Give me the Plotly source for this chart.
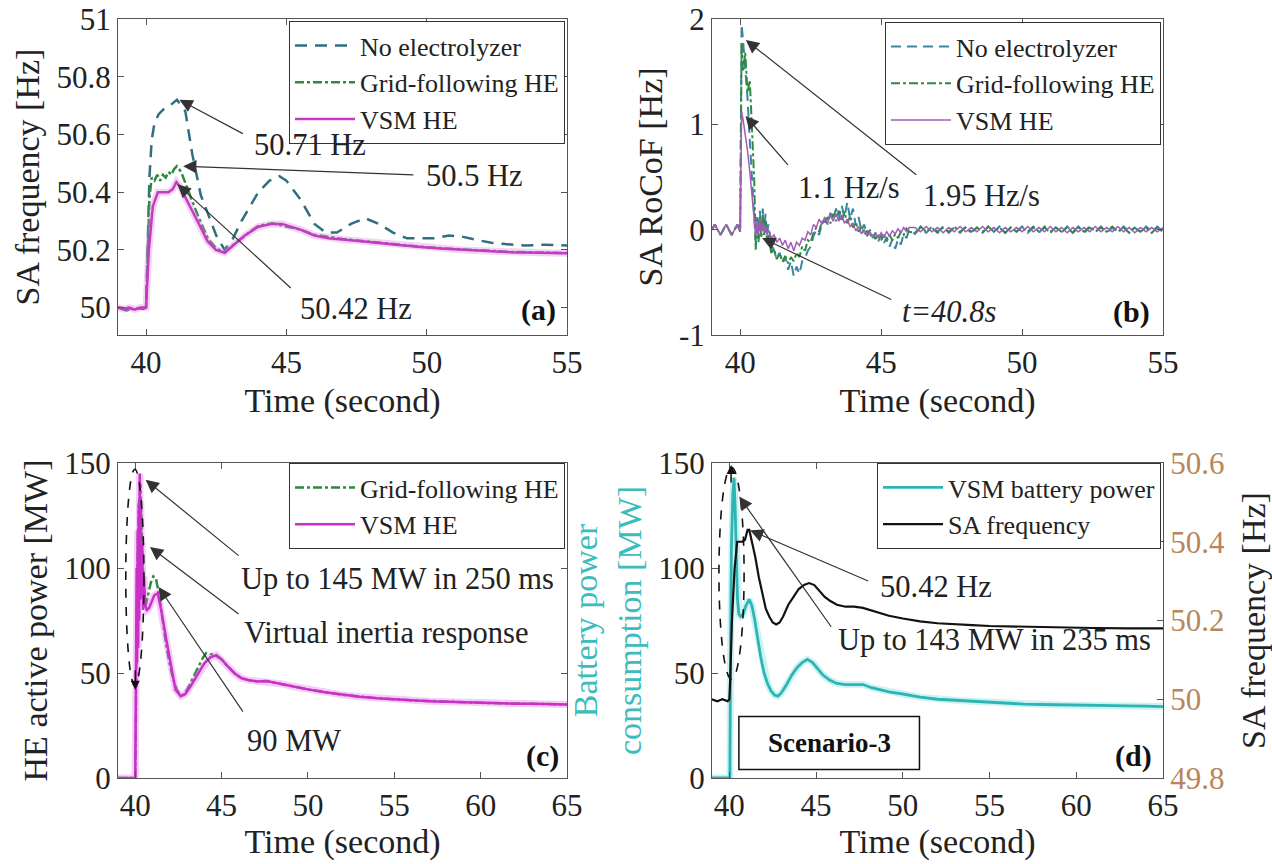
import plotly.graph_objects as go

FONT = "Liberation Serif, Times New Roman, serif"

# ---------------- (a) SA frequency ----------------
t_a_noel = [39.0, 39.3, 39.6, 39.9, 40.0, 40.06, 40.12, 40.2, 40.3, 40.45, 40.65, 40.85, 41.1, 41.4, 41.65,
            41.95, 42.25, 42.5, 42.8, 43.1, 43.4, 43.7, 44.0, 44.4, 44.75, 45.0, 45.5, 46.0, 46.4, 46.8,
            47.3, 47.8, 48.3, 48.8, 49.3, 49.8, 50.3, 50.8, 51.3, 51.8, 52.3, 52.8, 53.5, 54.2, 55.0]
f_a_noel = [50.0, 49.99, 50.0, 49.995, 50.0, 50.2, 50.45, 50.58, 50.64, 50.67, 50.69, 50.70, 50.72, 50.68, 50.53,
            50.39, 50.31, 50.25, 50.20, 50.24, 50.30, 50.35, 50.40, 50.44, 50.455, 50.44, 50.375, 50.29, 50.26, 50.26,
            50.29, 50.31, 50.29, 50.26, 50.24, 50.24, 50.24, 50.25, 50.245, 50.234, 50.225, 50.22, 50.215, 50.218, 50.215]

t_a_gf = [39.0, 39.5, 40.0, 40.05, 40.12, 40.2, 40.3, 40.4, 40.5, 40.6, 40.7, 40.8, 40.9, 41.0, 41.1,
          41.25, 41.45, 41.8, 42.2, 42.5, 42.8, 43.2, 43.6, 44.0, 44.5, 45.0, 45.5, 46.0, 47.0, 48.0,
          49.0, 50.0, 51.0, 52.0, 53.0, 54.0, 55.0]
f_a_gf = [50.0, 49.995, 50.0, 50.15, 50.38, 50.45, 50.44, 50.46, 50.44, 50.46, 50.45, 50.47, 50.46, 50.48, 50.49,
          50.47, 50.42, 50.33, 50.24, 50.205, 50.19, 50.225, 50.255, 50.283, 50.292, 50.282, 50.27, 50.252, 50.238, 50.228,
          50.218, 50.209, 50.203, 50.197, 50.193, 50.191, 50.189]

t_a_vsm = [39.0, 39.2, 39.4, 39.6, 39.8, 40.0, 40.05, 40.1, 40.24, 40.42, 40.6, 40.8, 40.95, 41.08, 41.2,
           41.47, 41.83, 42.19, 42.49, 42.8, 43.16, 43.52, 44.0, 44.48, 44.84, 45.2, 45.5, 46.0, 46.5, 47.0,
           47.5, 48.0, 48.5, 49.0, 49.5, 50.0, 50.5, 51.0, 51.5, 52.0, 52.5, 53.0, 53.5, 54.0, 54.5, 55.0]
f_a_vsm = [50.0, 49.995, 50.0, 49.993, 50.0, 50.0, 50.1, 50.2, 50.35, 50.40, 50.40, 50.40, 50.41, 50.435, 50.42,
           50.37, 50.30, 50.23, 50.20, 50.19, 50.22, 50.25, 50.28, 50.29, 50.29, 50.28, 50.27, 50.25, 50.24, 50.236,
           50.232, 50.227, 50.222, 50.217, 50.212, 50.208, 50.205, 50.202, 50.199, 50.196, 50.194, 50.192, 50.191, 50.19, 50.189, 50.188]

# ---------------- (b) SA RoCoF ----------------
t_b_pre = [39.0, 39.1, 39.2, 39.3, 39.4, 39.5, 39.6, 39.7, 39.8, 39.9, 40.0]
r_b_pre = [0.0, 0.05, 0.0, -0.05, 0.0, 0.05, 0.0, -0.05, 0.0, 0.05, -0.02]

t_b_evt = [40.05, 40.1, 40.18, 40.26, 40.34, 40.42, 40.5, 40.55, 40.6, 40.65,
           40.7, 40.75, 40.8, 40.85, 40.9, 40.95, 41.0,
           41.1, 41.2, 41.3, 41.4, 41.5, 41.6, 41.7, 41.8, 41.9, 42.0,
           42.1, 42.2, 42.3, 42.4, 42.5, 42.6, 42.7, 42.8, 42.9, 43.0,
           43.1, 43.2, 43.3, 43.4, 43.5, 43.6, 43.7, 43.8, 43.9, 44.0,
           44.1, 44.2, 44.3, 44.4, 44.5, 44.6, 44.7, 44.8, 44.9, 45.0,
           45.1, 45.2, 45.3, 45.4, 45.5, 45.6, 45.7, 45.8, 45.9, 46.0]
r_b_noel = [1.95, 1.8, 1.55, 1.25, 0.85, 0.45, 0.1, -0.12, 0.12, -0.08,
            0.18, -0.05, 0.2, 0.0, 0.15, -0.05, 0.05, -0.12, -0.2, -0.28,
            -0.22, -0.32, -0.26, -0.38, -0.3, -0.44, -0.35, -0.42, -0.3, -0.27,
            -0.2, -0.16, -0.06, 0.0, -0.05, 0.06, 0.1, 0.05, 0.16, 0.1,
            0.2, 0.1, 0.23, 0.12, 0.26, 0.1, 0.2, 0.04, 0.12, -0.01,
            0.05, -0.06, 0.0, -0.08, -0.03, -0.11, -0.05, -0.13, -0.07, -0.16,
            -0.09, -0.18, -0.09, -0.14, -0.04, -0.08, 0.0]
r_b_gf = [1.78, 1.5, 1.68, 1.3, 1.42, 0.95, 0.45, -0.19, 0.1, -0.12,
          0.12, -0.08, 0.15, -0.05, 0.08, -0.1, -0.05, -0.22, -0.18, -0.28,
          -0.22, -0.3, -0.25, -0.32, -0.26, -0.3, -0.22, -0.26, -0.16, -0.2,
          -0.1, -0.12, -0.03, 0.02, -0.02, 0.08, 0.05, 0.12, 0.06, 0.15,
          0.08, 0.18, 0.08, 0.17, 0.06, 0.13, 0.02, 0.07, -0.02, 0.03,
          -0.05, -0.01, -0.07, -0.03, -0.09, -0.04, -0.1, -0.05, -0.11, -0.05,
          -0.1, -0.04, -0.08, -0.02, -0.05, 0.01, -0.02]
r_b_vsm = [1.12, 1.05, 0.92, 0.75, 0.55, 0.32, 0.1, -0.05, 0.08, -0.05,
           0.1, -0.03, 0.07, -0.02, 0.04, -0.05, 0.0, -0.08, -0.05, -0.12,
           -0.08, -0.15, -0.1, -0.18, -0.12, -0.2, -0.12, -0.15, -0.08, -0.1,
           -0.02, -0.05, 0.05, 0.02, 0.1, 0.05, 0.12, 0.06, 0.14, 0.08,
           0.15, 0.08, 0.14, 0.06, 0.1, 0.03, 0.06, -0.01, 0.03, -0.04,
           0.0, -0.06, -0.02, -0.07, -0.03, -0.08, -0.03, -0.07, -0.02, -0.06,
           -0.01, -0.04, 0.01, -0.03, 0.02, -0.02, 0.02]

t_b_tail = [46.2, 46.4, 46.6, 46.8, 47.0, 47.2, 47.4, 47.6, 47.8, 48.0,
            48.2, 48.4, 48.6, 48.8, 49.0, 49.2, 49.4, 49.6, 49.8, 50.0,
            50.2, 50.4, 50.6, 50.8, 51.0, 51.2, 51.4, 51.6, 51.8, 52.0,
            52.2, 52.4, 52.6, 52.8, 53.0, 53.2, 53.4, 53.6, 53.8, 54.0,
            54.2, 54.4, 54.6, 54.8, 55.0]
r_tail_noel = [-0.04, 0.02, -0.03, 0.03, -0.02, 0.03, -0.03, 0.02, -0.03, 0.03,
               -0.02, 0.02, -0.03, 0.03, -0.02, 0.03, -0.03, 0.02, -0.02, 0.03,
               -0.03, 0.02, -0.03, 0.03, -0.02, 0.02, -0.03, 0.03, -0.02, 0.03,
               -0.03, 0.02, -0.02, 0.03, -0.03, 0.02, -0.03, 0.03, -0.02, 0.02,
               -0.03, 0.03, -0.02, 0.03, -0.02]
r_tail_gf = [-0.03, 0.03, -0.02, 0.02, -0.03, 0.02, -0.02, 0.03, -0.02, 0.02,
             -0.03, 0.02, -0.02, 0.03, -0.02, 0.02, -0.03, 0.02, -0.02, 0.02,
             -0.02, 0.03, -0.02, 0.02, -0.03, 0.02, -0.02, 0.02, -0.03, 0.02,
             -0.02, 0.03, -0.02, 0.02, -0.02, 0.03, -0.02, 0.02, -0.03, 0.02,
             -0.02, 0.02, -0.03, 0.02, -0.02]
r_tail_vsm = [0.02, -0.02, 0.03, -0.02, 0.02, -0.03, 0.02, -0.02, 0.03, -0.02,
              0.02, -0.02, 0.03, -0.02, 0.02, -0.03, 0.02, -0.02, 0.02, -0.02,
              0.03, -0.02, 0.02, -0.02, 0.03, -0.02, 0.02, -0.03, 0.02, -0.02,
              0.02, -0.02, 0.03, -0.02, 0.02, -0.02, 0.03, -0.02, 0.02, -0.03,
              0.02, -0.02, 0.02, -0.02, 0.02]

# ---------------- (c) HE active power ----------------
t_c_gf = [39.0, 39.5, 40.0, 40.05, 40.12, 40.2, 40.3, 40.4, 40.5, 40.6,
          40.75, 40.9, 41.05, 41.2, 41.4, 41.6, 41.8, 42.0, 42.2, 42.4,
          42.6, 42.8, 43.0, 43.3, 43.6, 43.9, 44.1, 44.4, 44.7, 45.0,
          45.37, 45.8, 46.16, 46.6, 47.1, 47.6, 48.0, 49.0, 50.0, 52.0,
          54.0, 56.0, 58.0, 60.0, 62.0, 65.0]
p_c_gf = [0, 0, 0, 40, 100, 130, 140, 110, 88, 82,
          88, 93, 96, 95, 86, 74, 63, 54, 47, 42,
          39.5, 39.5, 42, 47, 52, 57, 59.5, 59, 58, 56.5,
          53, 49.5, 47.5, 46.5, 46, 46.2, 45.5, 43.8, 42.2, 39.6,
          38, 37, 36.3, 35.8, 35.5, 35]

t_c_vsm = [39.0, 39.5, 40.0, 40.04, 40.08, 40.11, 40.14, 40.17, 40.2, 40.23,
           40.26, 40.29, 40.32, 40.36, 40.4, 40.45, 40.5, 40.58, 40.67, 40.8,
           40.95, 41.1, 41.3, 41.5, 41.84, 42.1, 42.33, 42.63, 42.9, 43.2,
           43.6, 44.0, 44.35, 44.7, 45.0, 45.37, 45.8, 46.16, 46.6, 47.1,
           47.6, 48.0, 48.5, 49.0, 49.5, 50.0, 51.0, 52.0, 53.0, 54.0,
           55.0, 56.0, 57.0, 58.0, 59.0, 60.0, 61.0, 62.0, 63.0, 64.0, 65.0]
p_c_vsm = [0, 0, 0, 48, 100, 55, 118, 62, 130, 75,
           145, 95, 132, 85, 112, 80, 96, 82, 80, 81,
           84, 87, 88, 80, 64, 52, 42, 39, 40, 43.6,
           49, 54.6, 57.5, 58.5, 56.5, 53, 49.5, 47.5, 46.5, 46,
           46.2, 45.5, 44.8, 43.8, 43, 42.2, 40.8, 39.6, 38.7, 38,
           37.4, 37, 36.6, 36.3, 36, 35.8, 35.6, 35.4, 35.3, 35.2, 35]

# ---------------- (d) battery power + SA frequency ----------------
t_d_bat = [39.0, 40.0, 40.03, 40.07, 40.12, 40.2, 40.27, 40.33, 40.4, 40.47,
           40.55, 40.65, 40.8, 40.95, 41.15, 41.3, 41.45, 41.6, 41.8, 42.0,
           42.2, 42.4, 42.6, 42.8, 43.0, 43.3, 43.6, 43.9, 44.2, 44.5,
           44.8, 45.1, 45.4, 45.8, 46.2, 46.7, 47.2, 47.7, 48.2, 48.7,
           49.2, 50.0, 51.0, 52.0, 53.0, 54.0, 55.0, 56.0, 57.0, 58.0,
           59.0, 60.0, 61.0, 62.0, 63.0, 64.0, 65.0]
p_d_bat = [0, 0, 0, 60, 110, 135, 143, 130, 105, 85,
           78, 77, 78, 82, 85, 82, 76, 68, 58, 50,
           45, 41.5, 39.5, 39, 40.5, 44.5, 49, 52.5, 55, 56.5,
           55, 52, 49, 46.5, 45, 44.5, 44.5, 44.5, 43, 42,
           41, 40, 38.5, 37.5, 37, 36.5, 36, 35.5, 35.2, 35,
           34.8, 34.6, 34.5, 34.4, 34.3, 34.2, 34]

t_d_freq = [39.0, 39.3, 39.6, 39.9, 40.0, 40.05, 40.15, 40.3, 40.45, 40.6,
            40.75, 40.9, 41.05, 41.15, 41.3, 41.5, 41.7, 41.9, 42.1, 42.3,
            42.5, 42.7, 42.9, 43.1, 43.4, 43.7, 44.0, 44.3, 44.6, 44.9,
            45.2, 45.5, 45.8, 46.2, 46.7, 47.2, 47.7, 48.2, 48.7, 49.2,
            50.0, 51.0, 52.0, 53.0, 54.0, 55.0, 57.0, 59.0, 61.0, 63.0, 65.0]
f_d_freq = [50.0, 49.995, 50.0, 49.995, 50.0, 50.05, 50.2, 50.33, 50.40, 50.40,
            50.40, 50.405, 50.43, 50.43, 50.40, 50.36, 50.31, 50.27, 50.23, 50.21,
            50.195, 50.19, 50.195, 50.21, 50.24, 50.26, 50.28, 50.29, 50.295, 50.29,
            50.275, 50.26, 50.25, 50.24, 50.235, 50.235, 50.232, 50.225, 50.218, 50.212,
            50.205, 50.198, 50.193, 50.19, 50.188, 50.186, 50.184, 50.182, 50.181, 50.18, 50.18]

# tick labels
ticks_x_top = [40, 45, 50, 55]
ticks_x_bot = [40, 45, 50, 55, 60, 65]
ticks_y_a = [50, 50.2, 50.4, 50.6, 50.8, 51]
ticks_y_a_txt = ["50", "50.2", "50.4", "50.6", "50.8", "51"]
ticks_y_b = [-1, 0, 1, 2]
ticks_y_mw = [0, 50, 100, 150]
ticks_y_hz = [49.8, 50, 50.2, 50.4, 50.6]
ticks_y_hz_txt = ["49.8", "50", "50.2", "50.4", "50.6"]

pairs = [(t_a_noel, f_a_noel), (t_a_gf, f_a_gf), (t_a_vsm, f_a_vsm), (t_b_evt, r_b_noel), (t_b_evt, r_b_gf),
         (t_b_evt, r_b_vsm), (t_b_tail, r_tail_noel), (t_b_tail, r_tail_gf), (t_b_tail, r_tail_vsm),
         (t_b_pre, r_b_pre), (t_c_gf, p_c_gf), (t_c_vsm, p_c_vsm), (t_d_bat, p_d_bat), (t_d_freq, f_d_freq)]
for a, b in pairs:
    assert len(a) == len(b), (len(a), len(b))

C_NOEL = "#2f6f80"
C_GF = "#2e8b3e"
C_VSM = "#c23cc2"
C_CYAN = "#2fb4b4"
C_TAN = "#b8865a"

fig = go.Figure()

# (a)
fig.add_trace(go.Scatter(x=t_a_noel, y=f_a_noel, mode="lines", name="No electrolyzer", legend="legend",
                         line=dict(color=C_NOEL, width=2.5, dash="12px,8px"), xaxis="x", yaxis="y"))
fig.add_trace(go.Scatter(x=t_a_gf, y=f_a_gf, mode="lines", name="Grid-following HE", legend="legend",
                         line=dict(color=C_GF, width=2.5, dash="dashdot"), xaxis="x", yaxis="y"))
fig.add_trace(go.Scatter(x=t_a_vsm, y=f_a_vsm, mode="lines", showlegend=False, hoverinfo="skip",
                         line=dict(color="rgba(225,130,225,0.35)", width=7), xaxis="x", yaxis="y"))
fig.add_trace(go.Scatter(x=t_a_vsm, y=f_a_vsm, mode="lines", name="VSM HE", legend="legend",
                         line=dict(color=C_VSM, width=2.5), xaxis="x", yaxis="y"))

# (b)
fig.add_trace(go.Scatter(x=t_b_pre + t_b_evt + t_b_tail, y=r_b_pre + r_b_noel + r_tail_noel, mode="lines",
                         name="No electrolyzer", legend="legend2",
                         line=dict(color="#3a86a0", width=2, dash="10px,6px"), xaxis="x2", yaxis="y2"))
fig.add_trace(go.Scatter(x=t_b_pre + t_b_evt + t_b_tail, y=r_b_pre + r_b_gf + r_tail_gf, mode="lines",
                         name="Grid-following HE", legend="legend2",
                         line=dict(color=C_GF, width=2, dash="dashdot"), xaxis="x2", yaxis="y2"))
fig.add_trace(go.Scatter(x=t_b_pre + t_b_evt + t_b_tail, y=r_b_pre + r_b_vsm + r_tail_vsm, mode="lines",
                         name="VSM HE", legend="legend2",
                         line=dict(color="#a45cb8", width=1.5), xaxis="x2", yaxis="y2"))

# (c)
fig.add_trace(go.Scatter(x=t_c_gf, y=p_c_gf, mode="lines", name="Grid-following HE", legend="legend3",
                         line=dict(color=C_GF, width=2.5, dash="dashdot"), xaxis="x3", yaxis="y3"))
fig.add_trace(go.Scatter(x=t_c_vsm, y=p_c_vsm, mode="lines", showlegend=False, hoverinfo="skip",
                         line=dict(color="rgba(235,110,235,0.35)", width=7), xaxis="x3", yaxis="y3"))
fig.add_trace(go.Scatter(x=t_c_vsm, y=p_c_vsm, mode="lines", name="VSM HE", legend="legend3",
                         line=dict(color="#c830c8", width=2.5), xaxis="x3", yaxis="y3"))

# (d)
fig.add_trace(go.Scatter(x=t_d_bat, y=p_d_bat, mode="lines", showlegend=False, hoverinfo="skip",
                         line=dict(color="rgba(110,220,220,0.35)", width=7), xaxis="x4", yaxis="y4"))
fig.add_trace(go.Scatter(x=t_d_bat, y=p_d_bat, mode="lines", name="VSM battery power", legend="legend4",
                         line=dict(color=C_CYAN, width=2.8), xaxis="x4", yaxis="y4"))
fig.add_trace(go.Scatter(x=t_d_freq, y=f_d_freq, mode="lines", name="SA frequency", legend="legend4",
                         line=dict(color="#111111", width=2.2), xaxis="x4", yaxis="y5"))

W, H = 1272, 864
XA = [118 / W, 567 / W]
XB = [712 / W, 1163 / W]
YT = [1 - 335 / H, 1 - 19 / H]
YB = [1 - 778 / H, 1 - 463 / H]

TICKF = dict(family=FONT, size=31, color="#222")
TITLEF = dict(family=FONT, size=34, color="#222")


def xax(dom, anchor, rng, tv, standoff=2):
    return dict(domain=dom, anchor=anchor, range=rng, tickvals=tv, ticks="inside", ticklen=6,
                tickcolor="#555", showline=True, linecolor="#555", linewidth=1, mirror="ticks",
                showgrid=False, zeroline=False, tickfont=TICKF, automargin=False,
                title=dict(text="Time (second)", font=TITLEF, standoff=standoff))


def yax(dom, anchor, rng, tv, tt, title, mirror="ticks", tcolor="#222", standoff=6):
    return dict(domain=dom, anchor=anchor, range=rng, tickvals=tv, ticktext=tt, ticks="inside", ticklen=6,
                tickcolor="#555", showline=True, linecolor="#555", linewidth=1, mirror=mirror,
                showgrid=False, zeroline=False, tickfont=TICKF, automargin=False,
                title=dict(text=title, font=dict(family=FONT, size=34, color=tcolor), standoff=standoff))


LEGF = dict(family=FONT, size=26, color="#222")


def leg(x, y):
    return dict(x=x, y=y, xanchor="right", yanchor="top", bgcolor="white", bordercolor="#333",
                borderwidth=1, font=LEGF, itemwidth=60, tracegroupgap=0, traceorder="normal")


ARR = dict(showarrow=True, arrowhead=2, arrowsize=2.2, arrowwidth=1.2, arrowcolor="#333", standoff=0, text="")
TXT = dict(showarrow=False, font=dict(family=FONT, size=30.5, color="#222"))
PANEL = dict(showarrow=False, font=dict(family=FONT, size=30, color="#111"))

ann = []


def arrow(xr, yr, hx, hy, tx, ty):
    ann.append(dict(ARR, xref=xr, yref=yr, axref=xr, ayref=yr, x=hx, y=hy, ax=tx, ay=ty))


def text(xr, yr, x, y, s, base=TXT):
    ann.append(dict(base, xref=xr, yref=yr, x=x, y=y, text=s))


# (a)
arrow("x", "y", 41.19, 50.72, 43.5, 50.60)
text("x", "y", 45.83, 50.565, "50.71 Hz")
arrow("x", "y", 41.32, 50.49, 49.58, 50.46)
text("x", "y", 51.7, 50.456, "50.5 Hz")
arrow("x", "y", 41.12, 50.427, 45.21, 50.063)
text("x", "y", 47.47, 49.994, "50.42 Hz")
text("x", "y", 54.0, 49.99, "<b>(a)</b>", PANEL)
# (b)
arrow("x2", "y2", 40.19, 1.08, 41.74, 0.6)
text("x2", "y2", 43.87, 0.40, "1.1 Hz/s")
arrow("x2", "y2", 40.2, 1.80, 46.3, 0.51)
text("x2", "y2", 48.57, 0.32, "1.95 Hz/s")
arrow("x2", "y2", 40.78, -0.08, 45.41, -0.67)
text("x2", "y2", 47.4, -0.78, "<i>t=40.8s</i>")
text("x2", "y2", 53.87, -0.78, "<b>(b)</b>", PANEL)
# (c)
arrow("x3", "y3", 40.6, 142.0, 46.07, 105.3)
text("x3", "y3", 55.18, 95, "Up to 145 MW in 250 ms")
arrow("x3", "y3", 40.85, 110.0, 46.07, 77.6)
text("x3", "y3", 54.5, 68.9, "Virtual inertia response")
arrow("x3", "y3", 41.35, 91.0, 46.29, 30.9)
text("x3", "y3", 49.18, 17.4, "90 MW")
text("x3", "y3", 63.6, 10.3, "<b>(c)</b>", PANEL)
ann.append(dict(showarrow=True, arrowhead=2, arrowsize=1.2, arrowwidth=1.5, arrowcolor="#111", standoff=0,
                text="", xref="x3", yref="y3", axref="x3", ayref="y3", x=40.0, y=42, ax=40.0, ay=52))
# (d)
arrow("x4", "y4", 41.2, 118.0, 48.09, 93.5)
text("x4", "y4", 51.9, 91.1, "50.42 Hz")
arrow("x4", "y4", 40.57, 134.0, 45.93, 71.3)
text("x4", "y4", 55.26, 65.7, "Up to 143 MW in 235 ms")
text("x4", "y4", 45.75, 16.6, "<b>Scenario-3</b>", dict(showarrow=False, font=dict(family=FONT, size=27, color="#111")))
text("x4", "y4", 63.3, 10.3, "<b>(d)</b>", PANEL)
ann.append(dict(showarrow=True, arrowhead=2, arrowsize=1.2, arrowwidth=1.5, arrowcolor="#111", standoff=0,
                text="", xref="x4", yref="y4", axref="x4", ayref="y4", x=40.1, y=149, ax=40.1, ay=140))

shapes = [
    dict(type="circle", xref="x3", yref="y3", x0=39.45, x1=40.5, y0=44, y1=147,
         line=dict(color="#111", width=1.6, dash="dash")),
    dict(type="circle", xref="x4", yref="y4", x0=39.4, x1=40.85, y0=47, y1=148,
         line=dict(color="#111", width=1.6, dash="dash")),
    dict(type="rect", xref="x4", yref="y4", x0=40.55, x1=50.96, y0=4, y1=29.3,
         line=dict(color="#111", width=1.5), fillcolor="rgba(0,0,0,0)"),
]

y5 = yax(YB, "x4", [49.8, 50.6], ticks_y_hz, ticks_y_hz_txt, "SA frequency [Hz]", mirror=False, standoff=18)
y5.update(overlaying="y4", side="right", tickfont=dict(family=FONT, size=31, color=C_TAN))

fig.update_layout(
    width=W, height=H, margin=dict(l=0, r=0, t=0, b=0, autoexpand=False),
    paper_bgcolor="white", plot_bgcolor="white", showlegend=True,
    xaxis=xax(XA, "y", [39, 55], ticks_x_top, standoff=8),
    yaxis=yax(YT, "x", [49.905, 51], ticks_y_a, ticks_y_a_txt, "SA frequency [Hz]"),
    xaxis2=xax(XB, "y2", [39, 55], ticks_x_top, standoff=8),
    yaxis2=yax(YT, "x2", [-1, 2], ticks_y_b, [str(v) for v in ticks_y_b], "SA RoCoF [Hz]"),
    xaxis3=xax(XA, "y3", [39, 65], ticks_x_bot),
    yaxis3=yax(YB, "x3", [0, 150], ticks_y_mw, [str(v) for v in ticks_y_mw], "HE active power [MW]"),
    xaxis4=xax(XB, "y4", [39, 65], ticks_x_bot),
    yaxis4=yax(YB, "x4", [0, 150], ticks_y_mw, [str(v) for v in ticks_y_mw],
               "Battery power<br>consumption [MW]", mirror=True, tcolor="#3cbcbc"),
    yaxis5=y5,
    legend=leg(565 / W, 1 - 21 / H),
    legend2=leg(1161 / W, 1 - 22 / H),
    legend3=leg(565 / W, 1 - 463 / H),
    legend4=leg(1161 / W, 1 - 463 / H),
    annotations=ann, shapes=shapes,
)

fig.write_html("out.html", config={"displayModeBar": False},
               post_script="document.body.style.margin='0px';document.documentElement.style.overflow='hidden';")
